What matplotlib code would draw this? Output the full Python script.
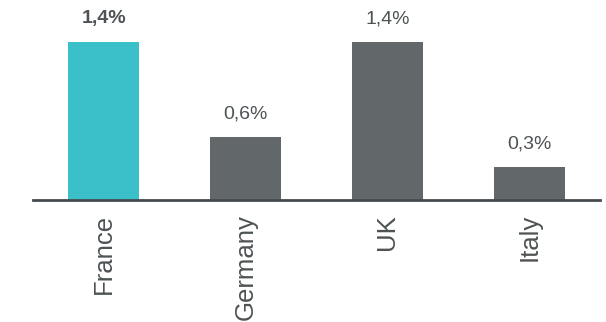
import matplotlib.pyplot as plt

plt.rcParams['font.family'] = ['Liberation Sans', 'DejaVu Sans']

# data
countries = ["France", "Germany", "UK", "Italy"]
values = [1.40, 0.56, 1.40, 0.29]
highlight = "France"

TEAL = "#3bc0ca"
GREY = "#626869"
TEXT = "#4d5254"

fig = plt.figure(figsize=(6.06, 3.22), dpi=100)
ax = fig.add_axes([33 / 606, 122 / 322, 567 / 606, 200 / 322])

x = range(len(countries))
colors = [TEAL if c == highlight else GREY for c in countries]
bars = ax.bar(x, values, width=0.5, color=colors)

for bar, c, v in zip(bars, countries, values):
    label = f"{v:.1f}".replace(".", ",") + "%"
    ax.annotate(label, (bar.get_x() + bar.get_width() / 2, bar.get_height()),
                xytext=(0, 10.5), textcoords="offset points",
                ha="center", va="bottom", fontsize=14, color=TEXT,
                fontweight="bold" if c == highlight else "normal")

ax.set_xlim(-0.5, 3.5)
ax.set_ylim(0, 1.77)
ax.set_xticks(list(x))
ax.set_xticklabels(countries, rotation=90, fontsize=18.5, color=TEXT)
ax.tick_params(axis="x", length=0, pad=10)
ax.set_yticks([])

for side in ["top", "right", "left"]:
    ax.spines[side].set_visible(False)
ax.spines["bottom"].set_color("#454b4f")
ax.spines["bottom"].set_linewidth(2)

fig.savefig("out.png", dpi=100)
